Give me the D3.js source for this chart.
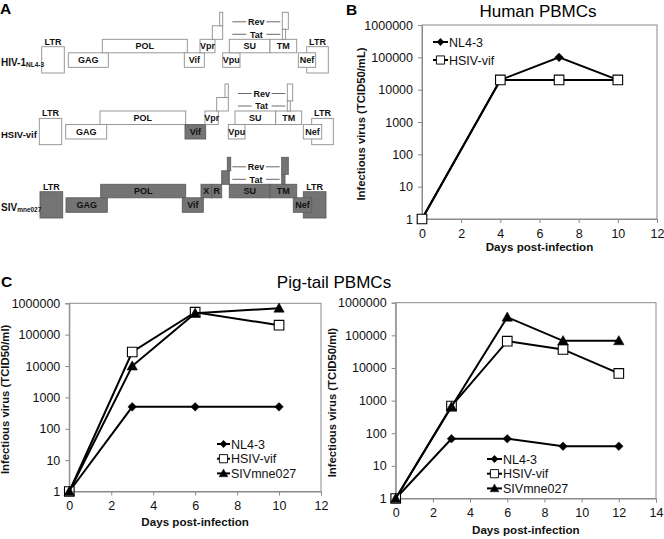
<!DOCTYPE html>
<html><head><meta charset="utf-8">
<script src="https://cdnjs.cloudflare.com/ajax/libs/d3/7.8.5/d3.min.js"></script>
<style>
body{margin:0;background:#fff}
svg{display:block}
text{font-family:"Liberation Sans",Arial,Helvetica,sans-serif}
</style>
</head><body>
<svg id="fig" width="664" height="539"></svg>
<script>
// ================= DATA =================
// Panel B: Human PBMCs
const humanDays = [0, 4, 7, 10];
const humanNL43 = [1, 20000, 100000, 20000];
const humanHSIV = [1, 20000, 20000, 20000];
// Panel C left: Pig-tail PBMCs donor 1
const pig1Days = [0, 3, 6, 10];
const pig1NL43 = [1, 500, 500, 500];
const pig1HSIV = [1, 28000, 520000, 200000];
const pig1SIV  = [1, 10000, 480000, 700000];
// Panel C right: Pig-tail PBMCs donor 2
const pig2Days = [0, 3, 6, 9, 12];
const pig2NL43 = [1, 68, 68, 40, 40];
const pig2HSIV = [1, 680, 66000, 37000, 6800];
const pig2SIV  = [1, 650, 360000, 68000, 68000];
// axis ticks
const yTickValues = [1, 10, 100, 1000, 10000, 100000, 1000000];
const xTicks12 = [0, 2, 4, 6, 8, 10, 12];
const xTicks14 = [0, 2, 4, 6, 8, 10, 12, 14];
const seriesNames = ["NL4-3", "HSIV-vif", "SIVmne027"];

// Panel A: genome maps (diagram units, tier = vertical track)
const hivGenes = [
  ["LTR", 41.7, 64.3, "ltr"], ["LTR", 306.7, 328.3, "ltr"],
  ["GAG", 68.3, 108.3, "low"], ["POL", 102.3, 187.3, "up"],
  ["Vif", 184.3, 204.3, "low"], ["Vpr", 200, 215, "up"],
  ["", 212.3, 222.7, "ex1"], ["", 219.7, 222.7, "ex1t"],
  ["Vpu", 222.7, 240, "low"], ["SU", 229.3, 270, "up"], ["TM", 270, 296.7, "up"],
  ["", 282.3, 288.3, "rev2"], ["", 282.3, 285.6, "tat2"],
  ["Nef", 298.3, 315.7, "low"]
];
const hsivGenes = [
  ["LTR", 39.3, 61.7, "ltr"], ["LTR", 311.7, 333.3, "ltr"],
  ["GAG", 65.7, 106.7, "low"], ["POL", 100, 185.7, "up"],
  ["Vif", 185, 205.7, "low", "dark"], ["Vpr", 205, 218.3, "up"],
  ["", 216.7, 228.3, "ex1"], ["", 225, 228.3, "ex1t"],
  ["Vpu", 228.3, 245, "low"], ["SU", 235, 275.7, "up"], ["TM", 275.7, 301.7, "up"],
  ["", 287.3, 292.7, "rev2"], ["", 287.3, 290.3, "tat2"],
  ["Nef", 303.3, 321.7, "low"]
];
const sivGenes = [
  ["LTR", 40, 62.7, "ltr"], ["LTR", 303.3, 326, "ltr"],
  ["GAG", 66, 107.3, "low"], ["POL", 100.7, 185.7, "up"],
  ["Vif", 182.3, 203.3, "low"], ["X", 201, 211.7, "up"], ["R", 211.7, 221.7, "up"],
  ["", 221.7, 229.3, "ex1"], ["", 227.3, 230.7, "ex1t"],
  ["SU", 229.3, 270, "up"], ["TM", 270, 296.7, "up"],
  ["", 281.7, 288.3, "rev2"], ["", 281.7, 285, "tat2"],
  ["Nef", 293.3, 311.7, "low"]
];

// ================= DRAW =================
const svg = d3.select("#fig");
const FONT = '"Liberation Sans",Arial,Helvetica,sans-serif';

// ---------- Panel A ----------
(function panelA(){
  const gx = d3.scaleLinear().domain([0, 340]).range([0, 340]);
  const tiers = {
    up:   [0, 13.5], low: [13.5, 14.5], ltr: [7.4, 26.3],
    ex1: [-13.5, 13.5], ex1t: [-27, 13.5], rev2: [-27, 17], tat2: [-10, 10]
  };
  const rows = [
    {genes: hivGenes, base: 39.3, dark: false, label: "HIV-1", sub: "NL4-3"},
    {genes: hsivGenes, base: 111, dark: false, label: "HSIV-vif", sub: ""},
    {genes: sivGenes, base: 184.3, dark: true, label: "SIV", sub: "mne027"}
  ];
  const darkFill = "#747474", darkStroke = "#5e5e5e", lightStroke = "#8e8e8e";
  svg.append("text").attr("x", 0).attr("y", 13.5).attr("font-size", 15.5)
    .attr("font-weight", "bold").text("A");
  rows.forEach(r => {
    const g = svg.append("g");
    r.genes.forEach(d => {
      const [name, s, e, tier, fl] = d;
      const t = tiers[tier];
      const dk = r.dark || fl === "dark";
      g.append("rect").attr("x", gx(s)).attr("y", r.base + t[0])
        .attr("width", gx(e) - gx(s)).attr("height", t[1])
        .attr("fill", dk ? darkFill : "#fff")
        .attr("stroke", dk ? darkStroke : lightStroke).attr("stroke-width", 0.9);
      if (name && tier !== "ltr") {
        g.append("text").attr("x", (gx(s) + gx(e)) / 2).attr("y", r.base + t[0] + t[1] / 2 + 3.3)
          .attr("text-anchor", "middle").attr("font-size", 9).attr("font-weight", "bold")
          .attr("fill", "#111").text(name);
      }
      if (tier === "ltr") {
        g.append("text").attr("x", (gx(s) + gx(e)) / 2).attr("y", r.base + t[0] - 2)
          .attr("text-anchor", "middle").attr("font-size", 9).attr("font-weight", "bold")
          .attr("fill", "#111").text(name);
      }
    });
    // Rev / Tat labels
    const su = r.genes.find(d => d[0] === "SU");
    const rv = r.genes.find(d => d[3] === "rev2");
    const lx0 = gx(su[1]) + 3, lx1 = gx(rv[1]) - 2, mid = (lx0 + lx1) / 2;
    [["Rev", -17.5], ["Tat", -5]].forEach(([nm, off]) => {
      const yy = r.base + off;
      g.append("line").attr("x1", lx0).attr("x2", mid - 10).attr("y1", yy).attr("y2", yy)
        .attr("stroke", "#444").attr("stroke-width", 0.8);
      g.append("line").attr("x1", mid + 10).attr("x2", lx1).attr("y1", yy).attr("y2", yy)
        .attr("stroke", "#444").attr("stroke-width", 0.8);
      g.append("text").attr("x", mid).attr("y", yy + 3.2).attr("text-anchor", "middle")
        .attr("font-size", 9).attr("font-weight", "bold").attr("fill", "#111").text(nm);
    });
    // row label
    const ly = r.base + 13.5 + 7.25 + 2.5 + 3.5;
    const t = g.append("text").attr("x", 1).attr("y", ly).attr("font-weight", "bold")
      .attr("font-size", r.sub ? 10 : 9.5).attr("fill", "#111");
    t.append("tspan").text(r.label);
    if (r.sub) t.append("tspan").attr("font-size", 6.5).attr("dy", 1).text(r.sub);
  });
})();

// ---------- line charts ----------
const markerPaths = {
  diamond: "M0,-4.3L4.3,0L0,4.3L-4.3,0Z",
  square: "M-4.8,-4.8H4.8V4.8H-4.8Z",
  triangle: "M0,-5.2L5.2,4L-5.2,4Z"
};
const markerStyle = {
  diamond: {fill: "#000", stroke: "#000", sw: 0.5},
  square: {fill: "#fff", stroke: "#000", sw: 1.1},
  triangle: {fill: "#000", stroke: "#000", sw: 0.5}
};

function drawChart(cfg) {
  const x = d3.scaleLinear().domain([0, cfg.xMax]).range([cfg.x0, cfg.x1]);
  const y = d3.scaleLog().domain([1, 1e6]).range([cfg.y1, cfg.y0]);
  const g = svg.append("g");
  g.append("rect").attr("x", cfg.x0).attr("y", cfg.y0)
    .attr("width", cfg.x1 - cfg.x0).attr("height", cfg.y1 - cfg.y0)
    .attr("fill", "none").attr("stroke", "#8a8a8a").attr("stroke-width", 1);
  const ya = g.append("g").attr("transform", `translate(${cfg.x0},0)`)
    .call(d3.axisLeft(y).tickValues(yTickValues).tickFormat(d3.format("d")).tickSize(4).tickPadding(5));
  const xa = g.append("g").attr("transform", `translate(0,${cfg.y1})`)
    .call(d3.axisBottom(x).tickValues(cfg.xTicks).tickSize(4).tickPadding(6));
  [ya, xa].forEach(a => {
    a.attr("font-family", FONT).attr("font-size", 12.5);
    a.select(".domain").attr("stroke", "#8a8a8a");
    a.selectAll(".tick line").attr("stroke", "#8a8a8a");
    a.selectAll(".tick text").attr("fill", "#111");
  });
  // axis titles
  g.append("text").attr("transform", `translate(${cfg.yTitleX},${(cfg.y0 + cfg.y1) / 2 + 2}) rotate(-90)`)
    .attr("text-anchor", "middle").attr("font-size", 11.3).attr("font-weight", "bold")
    .attr("fill", "#111").text(cfg.yTitle);
  g.append("text").attr("x", (cfg.x0 + cfg.x1) / 2).attr("y", cfg.y1 + cfg.xTitleDy)
    .attr("text-anchor", "middle").attr("font-size", 11.6).attr("font-weight", "bold")
    .attr("fill", "#111").text("Days post-infection");
  // series
  const line = d3.line().x(d => x(d[0])).y(d => y(d[1]));
  cfg.series.forEach(s => {
    const pts = s.days.map((d, i) => [d, s.values[i]]);
    g.append("path").datum(pts).attr("d", line).attr("fill", "none")
      .attr("stroke", "#000").attr("stroke-width", 2);
    const st = markerStyle[s.marker];
    g.selectAll(null).data(pts).enter().append("path")
      .attr("transform", d => `translate(${x(d[0])},${y(d[1])})`)
      .attr("d", markerPaths[s.marker]).attr("fill", st.fill)
      .attr("stroke", st.stroke).attr("stroke-width", st.sw);
  });
  // legend
  cfg.series.forEach((s, i) => {
    const ly = cfg.legY + i * cfg.legDy;
    g.append("line").attr("x1", cfg.legX).attr("x2", cfg.legX + cfg.legW)
      .attr("y1", ly).attr("y2", ly).attr("stroke", "#000").attr("stroke-width", 2);
    const st = markerStyle[s.marker];
    g.append("path").attr("transform", `translate(${cfg.legX + cfg.legW / 2},${ly}) scale(0.85)`)
      .attr("d", markerPaths[s.marker]).attr("fill", st.fill)
      .attr("stroke", st.stroke).attr("stroke-width", st.sw);
    g.append("text").attr("x", cfg.legX + cfg.legW + 1).attr("y", ly + 4.5)
      .attr("font-size", 12.5).attr("fill", "#111").text(s.name);
  });
}

// Panel B
svg.append("text").attr("x", 346).attr("y", 15).attr("font-size", 15.5)
  .attr("font-weight", "bold").text("B");
svg.append("text").attr("x", 538).attr("y", 17).attr("text-anchor", "middle")
  .attr("font-size", 17).text("Human PBMCs");
drawChart({
  x0: 422, x1: 657, y0: 25, y1: 219, xMax: 12, xTicks: xTicks12,
  yTitle: "Infectious virus (TCID50/mL)", yTitleX: 365, xTitleDy: 32,
  legX: 433, legW: 15, legY: 42, legDy: 18,
  series: [
    {name: seriesNames[0], days: humanDays, values: humanNL43, marker: "diamond"},
    {name: seriesNames[1], days: humanDays, values: humanHSIV, marker: "square"}
  ]
});

// Panel C
svg.append("text").attr("x", 1).attr("y", 287).attr("font-size", 15.5)
  .attr("font-weight", "bold").text("C");
svg.append("text").attr("x", 334).attr("y", 288).attr("text-anchor", "middle")
  .attr("font-size", 17).text("Pig-tail PBMCs");
drawChart({
  x0: 69.3, x1: 321, y0: 303.3, y1: 491.5, xMax: 12, xTicks: xTicks12,
  yTitle: "Infectious virus (TCID50/ml)", yTitleX: 9, xTitleDy: 34,
  legX: 217, legW: 13, legY: 444, legDy: 14.7,
  series: [
    {name: seriesNames[0], days: pig1Days, values: pig1NL43, marker: "diamond"},
    {name: seriesNames[1], days: pig1Days, values: pig1HSIV, marker: "square"},
    {name: seriesNames[2], days: pig1Days, values: pig1SIV, marker: "triangle"}
  ]
});
drawChart({
  x0: 395.7, x1: 656, y0: 302.7, y1: 498.5, xMax: 14, xTicks: xTicks14,
  yTitle: "Infectious virus (TCID50/ml)", yTitleX: 336, xTitleDy: 35,
  legX: 487, legW: 15, legY: 459, legDy: 14.7,
  series: [
    {name: seriesNames[0], days: pig2Days, values: pig2NL43, marker: "diamond"},
    {name: seriesNames[1], days: pig2Days, values: pig2HSIV, marker: "square"},
    {name: seriesNames[2], days: pig2Days, values: pig2SIV, marker: "triangle"}
  ]
});
</script>
</body></html>
